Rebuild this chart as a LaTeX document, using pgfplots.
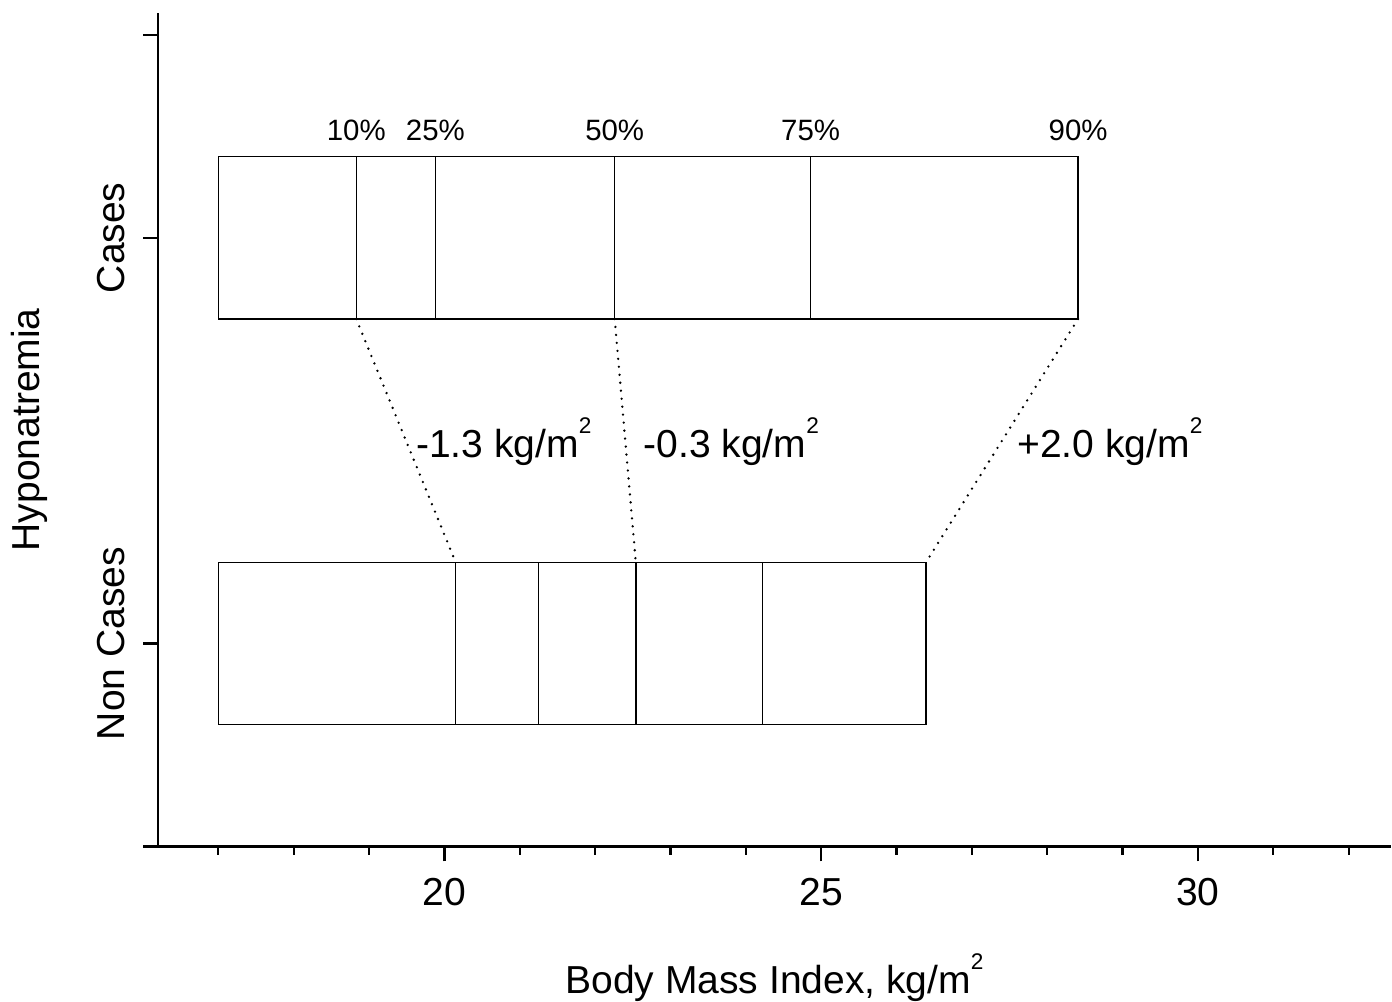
\documentclass[border=0pt]{standalone}
\usepackage{pgfplots}
\pgfplotsset{compat=1.18}
\usepackage{fontspec}
\setmainfont{Liberation Sans}
\newcommand{\sq}{\raisebox{0.62em}{\scalebox{0.58}{2}}}
\begin{document}
\begin{tikzpicture}
\begin{axis}[
  scale only axis,
  width=616pt, height=416.5pt,
  xmin=16.2, xmax=32.56,
  ymin=-0.5, ymax=1.554,
  clip=false,
  axis lines*=left,
  axis line style={line width=1.2pt},
  xtick={20,25,30},
  minor xtick={17,18,19,21,22,23,24,26,27,28,29,31,32},
  ytick={0,1,1.5},
  yticklabels={Non Cases, Cases, {}},
  tick align=outside,
  major tick length=7.5pt,
  minor tick length=4.2pt,
  every tick/.style={black, line width=1.1pt},
  every minor tick/.style={black, line width=1.1pt},
  tick label style={font=\fontsize{19.5}{23}\selectfont},
  yticklabel style={rotate=90, anchor=south},
  yticklabel shift=5.5pt,
  ylabel style={font=\fontsize{19.5}{23}\selectfont},
  xlabel style={font=\fontsize{19.5}{23}\selectfont},
  xticklabel style={yshift=-5pt},
  /pgf/number format/assume math mode=true,
  xlabel={Body Mass Index, kg/m\sq},
  ylabel={Hyponatremia},
  xlabel style={yshift=-20pt, inner sep=0pt},
  ylabel style={yshift=18pt},
]
% Cases box
\addplot[black, line width=0.75pt] coordinates {(17,0.8) (28.41,0.8) (28.41,1.2) (17,1.2) (17,0.8)};
\addplot[black, line width=0.75pt] coordinates {(18.83,0.8) (18.83,1.2)};
\addplot[black, line width=0.75pt] coordinates {(19.88,0.8) (19.88,1.2)};
\addplot[black, line width=0.75pt] coordinates {(22.26,0.8) (22.26,1.2)};
\addplot[black, line width=0.75pt] coordinates {(24.86,0.8) (24.86,1.2)};
% Non Cases box
\addplot[black, line width=0.75pt] coordinates {(17,-0.2) (26.39,-0.2) (26.39,0.2) (17,0.2) (17,-0.2)};
\addplot[black, line width=0.75pt] coordinates {(20.15,-0.2) (20.15,0.2)};
\addplot[black, line width=0.75pt] coordinates {(21.25,-0.2) (21.25,0.2)};
\addplot[black, line width=0.75pt] coordinates {(22.54,-0.2) (22.54,0.2)};
\addplot[black, line width=0.75pt] coordinates {(24.22,-0.2) (24.22,0.2)};
% dotted connectors
\addplot[black, line width=1.3pt, line cap=round, dash pattern=on 0pt off 4pt] coordinates {(18.83,0.8) (20.15,0.2)};
\addplot[black, line width=1.3pt, line cap=round, dash pattern=on 0pt off 4pt] coordinates {(22.26,0.8) (22.54,0.2)};
\addplot[black, line width=1.3pt, line cap=round, dash pattern=on 0pt off 4pt] coordinates {(28.41,0.8) (26.39,0.2)};
% percentile labels
\foreach \v/\t in {18.83/10\%, 19.88/25\%, 22.26/50\%, 24.86/75\%, 28.41/90\%}{
  \edef\temp{\noexpand\node[anchor=base, font=\noexpand\fontsize{14.7}{17}\noexpand\selectfont, inner sep=0pt] at (axis cs:\v,1.239) {\t};}
  \temp
}
% difference labels
\node[anchor=base west, inner sep=0pt, font=\fontsize{19.5}{24}\selectfont] at (axis cs:19.62,0.458) {-1.3 kg/m\sq};
\node[anchor=base west, inner sep=0pt, font=\fontsize{19.5}{24}\selectfont] at (axis cs:22.64,0.458) {-0.3 kg/m\sq};
\node[anchor=base west, inner sep=0pt, font=\fontsize{19.5}{24}\selectfont] at (axis cs:27.60,0.458) {+2.0 kg/m\sq};
% extension of x axis line to the left
\draw[line width=1.2pt] ([xshift=-7.5pt]rel axis cs:0,0) -- (rel axis cs:0,0);
% margins
\path ([yshift=6.5pt]rel axis cs:0,1);
\path ([xshift=-79pt]rel axis cs:0,0.5);
\end{axis}
\end{tikzpicture}
\end{document}
